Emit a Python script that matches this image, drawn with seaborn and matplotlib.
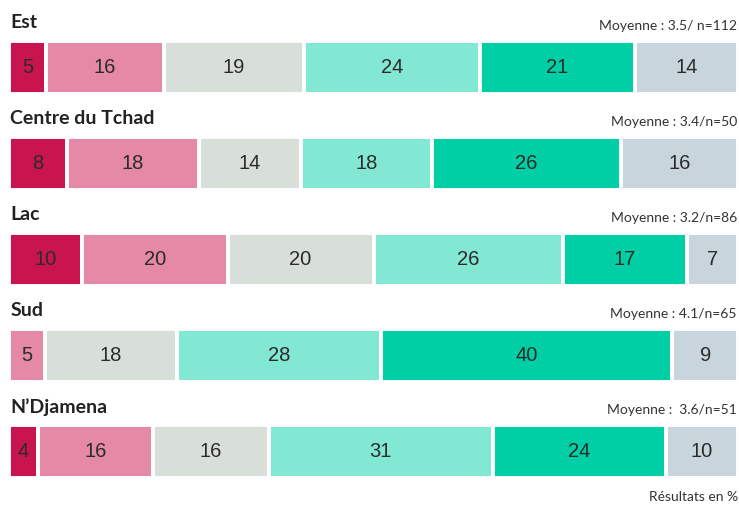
import numpy as np
import matplotlib.pyplot as plt
import seaborn as sns

# Données
regions = ['Est', 'Centre du Tchad', 'Lac', 'Sud', "N\u2019Djamena"]
moyennes = ['Moyenne : 3.5/ n=112', 'Moyenne : 3.4/n=50', 'Moyenne : 3.2/n=86',
            'Moyenne : 4.1/n=65', 'Moyenne :  3.6/n=51']
est = [5, 16, 19, 24, 21, 14]
centre = [8, 18, 14, 18, 26, 16]
lac = [10, 20, 20, 26, 17, 7]
sud = [0, 5, 18, 28, 40, 9]
ndjamena = [4, 16, 16, 31, 24, 10]
valeurs = [est, centre, lac, sud, ndjamena]

couleurs = ['#C8154F', '#E589A6', '#D8DFD9', '#82E8D3', '#00CEA5', '#C9D5DC']

sns.set_style('white')
plt.rcParams['font.family'] = ['Liberation Sans', 'DejaVu Sans']

W, H = 739, 505
fig = plt.figure(figsize=(W / 100, H / 100), dpi=100)

tops = [41, 137, 233, 329, 425]
bar_h = 53
x0, x1 = 9, 738

for i, (nom, moy, vals) in enumerate(zip(regions, moyennes, valeurs)):
    ax = fig.add_axes([x0 / W, 1 - (tops[i] + bar_h) / H, (x1 - x0) / W, bar_h / H])
    total = sum(vals)
    gauche = np.cumsum([0] + vals[:-1])
    for v, g, c in zip(vals, gauche, couleurs):
        if v == 0:
            continue
        ax.barh(0, v, left=g, height=1, color=c, edgecolor='white', linewidth=2.8)
        ax.text(g + v / 2, 0, str(v), ha='center', va='center', fontsize=14.5, color='#2b2b2b')
    ax.set_xlim(0, total)
    ax.set_ylim(-0.5, 0.5)
    ax.axis('off')

    # titres
    fig.text(x0 / W + 0.002, 1 - (tops[i] - 18) / H, nom, ha='left', va='center',
             fontsize=14, fontweight='bold', color='#222222', family=['Lato', 'DejaVu Sans'])
    fig.text(737 / W, 1 - (tops[i] - 15) / H, moy, ha='right', va='center',
             fontsize=10, color='#333333', family=['Lato', 'DejaVu Sans'])

fig.text(738 / W, 1 - 497 / H, 'R\u00e9sultats en %', ha='right', va='center',
         fontsize=10, color='#333333', family=['Lato', 'DejaVu Sans'])

fig.savefig('out.png', dpi=100)
